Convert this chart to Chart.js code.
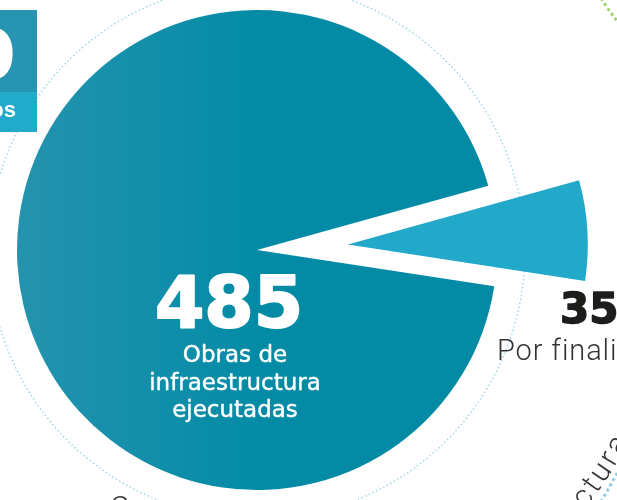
<!DOCTYPE html>
<html>
<head>
<meta charset="utf-8">
<script src="https://cdn.jsdelivr.net/npm/chart.js@4.4.1/dist/chart.umd.min.js"></script>
<style>
  html, body { margin: 0; padding: 0; background: #fff; }
  #wrap { width: 617px; height: 500px; position: relative; }
</style>
</head>
<body>
<div id="wrap"><canvas id="pieCanvas" width="617" height="500"></canvas></div>
<script>
const categories = ['Obras de infraestructura ejecutadas', 'Por finalizar'];
const obras = [485, 35];
const mainLines = ['Obras de', 'infraestructura', 'ejecutadas'];
const sideLabel = 'Por finalizar';

const sliceColor = '#22a9ca';
const pull = 91; // how far the small slice is pulled out

function mainFill(chart) {
    const area = chart.chartArea;
    if (!area) return '#068ca7';
    const g = chart.ctx.createLinearGradient(17, 0, 260, 0);
    g.addColorStop(0, '#2593ae');
    g.addColorStop(1, '#038ba6');
    return g;
}

// pulls the last slice out along its middle angle, radius unchanged
const explode = {
    id: 'explode',
    beforeDatasetDraw(chart, args) {
        const arc = args.meta.data[1];
        if (!arc || arc._pulled) return;
        const baseDraw = Object.getPrototypeOf(arc).draw;
        arc.draw = function (ctx) {
            const mid = (this.startAngle + this.endAngle) / 2;
            ctx.save();
            ctx.translate(Math.cos(mid) * pull, Math.sin(mid) * pull);
            baseDraw.call(this, ctx);
            ctx.restore();
        };
        arc._pulled = true;
    }
};

function boldText(ctx, txt, x, y, w) {
    ctx.lineWidth = w;
    ctx.lineJoin = 'round';
    ctx.strokeText(txt, x, y);
    ctx.fillText(txt, x, y);
}

// text on a circle round the pie centre, reading counter-clockwise
function curvedText(ctx, txt, cx, cy, r, startDeg, spacing) {
    let a = startDeg * Math.PI / 180;
    for (const ch of txt) {
        const w = ctx.measureText(ch).width + spacing;
        ctx.save();
        ctx.translate(cx + r * Math.cos(a), cy + r * Math.sin(a));
        ctx.rotate(a - Math.PI / 2);
        ctx.fillText(ch, 0, 0);
        ctx.restore();
        a -= w / r;
    }
}

const decor = {
    id: 'decor',
    beforeDatasetsDraw(chart) {
        const ctx = chart.ctx;
        const arc = chart.getDatasetMeta(0).data[0];
        ctx.save();
        // dotted ring
        ctx.strokeStyle = '#93d2e7';
        ctx.lineWidth = 1.3;
        ctx.setLineDash([1.5, 2.5]);
        ctx.beginPath();
        ctx.arc(arc.x, arc.y + 1, 268, 0, Math.PI * 2);
        ctx.stroke();
        // green dotted arc top right
        ctx.strokeStyle = '#9fd46c';
        ctx.lineWidth = 3;
        ctx.setLineDash([3, 3]);
        ctx.beginPath();
        ctx.moveTo(601, -2);
        ctx.quadraticCurveTo(609, 11, 618, 22);
        ctx.stroke();
        // blue dotted arc bottom right
        ctx.strokeStyle = '#8fcde2';
        ctx.beginPath();
        ctx.moveTo(601, 502);
        ctx.quadraticCurveTo(611, 484, 619, 470);
        ctx.stroke();
        ctx.setLineDash([]);

        // boxes top left
        ctx.fillStyle = '#2794b2';
        ctx.fillRect(0, 10, 37, 82);
        ctx.fillStyle = '#22aacb';
        ctx.fillRect(0, 92, 37, 40);
        ctx.fillStyle = '#fff';
        ctx.strokeStyle = '#fff';
        ctx.font = 'bold 68px "DejaVu Sans"';
        ctx.textAlign = 'right';
        ctx.textBaseline = 'alphabetic';
        boldText(ctx, '520', 15, 78, 1.5);
        ctx.font = 'bold 22px "Liberation Sans"';
        ctx.fillText('Proyectos', 16, 117);
        ctx.restore();
    },
    afterDatasetsDraw(chart) {
        const ctx = chart.ctx;
        const arc = chart.getDatasetMeta(0).data[0];
        ctx.save();
        ctx.textAlign = 'center';
        ctx.textBaseline = 'alphabetic';
        ctx.fillStyle = '#fff';
        ctx.strokeStyle = '#fff';
        ctx.font = 'bold 71px "DejaVu Sans"';
        boldText(ctx, String(obras[0]), 229, 327, 2);
        ctx.font = '23px "DejaVu Sans"';
        mainLines.forEach((t, i) => boldText(ctx, t, 235, 362 + i * 27.5, 0.4));

        ctx.textAlign = 'left';
        ctx.fillStyle = '#1d1d1b';
        ctx.strokeStyle = '#1d1d1b';
        ctx.font = 'bold 42px "DejaVu Sans"';
        boldText(ctx, String(obras[1]), 560, 323, 1.5);
        ctx.fillStyle = '#333';
        ctx.font = '300 29px Roboto';
        ctx.letterSpacing = '0.9px';
        ctx.fillText(sideLabel, 497, 360);
        ctx.letterSpacing = '0px';

        // curved label fragment bottom right
        ctx.font = '300 30px Roboto';
        curvedText(ctx, 'estructura', arc.x, arc.y, 418, 49.5, 3);
        ctx.fillText('C', 110, 517);
        ctx.restore();
    }
};

new Chart(document.getElementById('pieCanvas'), {
    type: 'pie',
    data: {
        labels: categories,
        datasets: [{
            data: obras,
            backgroundColor: (c) => c.dataIndex === 0 ? mainFill(c.chart) : sliceColor,
            borderWidth: 0
        }]
    },
    options: {
        responsive: false,
        animation: false,
        rotation: 98.7,
        radius: 240,
        layout: { padding: { left: 0, right: 103, top: 0, bottom: 0 } },
        plugins: { legend: { display: false }, tooltip: { enabled: false } },
        events: []
    },
    plugins: [explode, decor]
});
</script>
</body>
</html>
